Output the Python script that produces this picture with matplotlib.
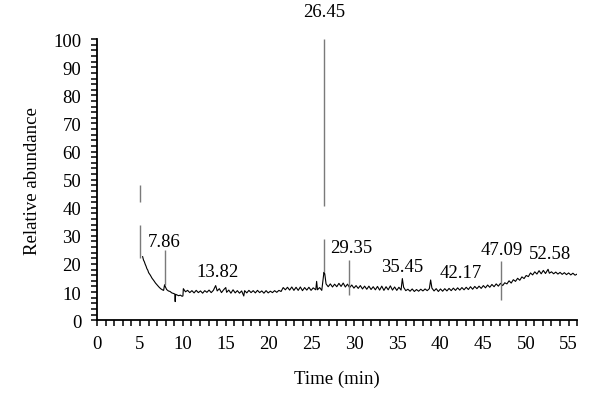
import matplotlib
matplotlib.use("Agg")
from matplotlib import pyplot as plt
from matplotlib.ticker import MultipleLocator
import numpy as np

plt.rcParams['font.family'] = ['Liberation Serif', 'DejaVu Serif']

# chromatogram trace (time in min, relative abundance)
trace_t = [5.3, 5.4, 5.5, 5.6, 5.7, 5.8, 5.9, 6.0, 6.2, 6.4, 6.6, 6.8, 7.0, 7.2, 7.4, 7.6, 7.75, 7.86, 7.95,
           8.1, 8.3, 8.5, 8.7, 8.9, 9.05, 9.1, 9.15, 9.3, 9.5, 9.7, 9.9, 10.0,
           10.05, 10.3, 10.55, 10.8, 11.05, 11.3, 11.55, 11.8, 12.05, 12.3, 12.55, 12.8, 13.05, 13.3, 13.55,
           13.82, 14.0, 14.25, 14.5, 14.75, 15.0, 15.1, 15.35, 15.6, 15.85, 16.1, 16.35, 16.6, 16.85, 17.1,
           17.2, 17.45, 17.7, 17.95, 18.2, 18.45, 18.7, 18.95, 19.2, 19.45, 19.7, 19.95, 20.2, 20.45, 20.7,
           20.95, 21.2, 21.45, 21.7, 21.95, 22.2, 22.45, 22.7, 22.95, 23.2, 23.45, 23.7, 23.95, 24.2, 24.45,
           24.7, 24.95, 25.2, 25.5, 25.6, 25.7, 25.95, 26.2, 26.45, 26.55, 26.7, 26.95, 27.2, 27.45, 27.7,
           27.95, 28.2, 28.45, 28.7, 28.95, 29.2, 29.45, 29.7, 29.95, 30.2, 30.45, 30.7, 30.95, 31.2, 31.45,
           31.7, 31.95, 32.2, 32.45, 32.7, 32.95, 33.2, 33.45, 33.7, 33.95, 34.2, 34.45, 34.7, 34.95, 35.2,
           35.45, 35.6, 35.75, 36.0, 36.25, 36.5, 36.75, 37.0, 37.25, 37.5, 37.75, 38.0, 38.25, 38.5, 38.75,
           38.9, 39.05, 39.3, 39.55, 39.8, 40.05, 40.3, 40.55, 40.8, 41.05, 41.3, 41.55, 41.8, 42.05, 42.3,
           42.55, 42.8, 43.05, 43.3, 43.55, 43.8, 44.05, 44.3, 44.55, 44.8, 45.05, 45.3, 45.55, 45.8, 46.05,
           46.3, 46.55, 46.8, 47.05, 47.3, 47.55, 47.8, 48.05, 48.3, 48.55, 48.8, 49.05, 49.3, 49.55, 49.8,
           50.05, 50.3, 50.55, 50.8, 51.05, 51.3, 51.55, 51.8, 52.05, 52.3, 52.6, 52.75, 53.0, 53.25, 53.5,
           53.75, 54.0, 54.25, 54.5, 54.75, 55.0, 55.25, 55.5, 55.75, 56.0]
trace_y = [22.6, 21.4, 20.8, 19.9, 19.2, 18.3, 17.8, 16.9, 16.0, 14.9, 14.1, 13.2, 12.5, 11.8, 11.2, 10.8, 10.6, 12.6, 11.9,
           10.9, 10.4, 10.2, 9.7, 9.5, 9.3, 6.6, 9.2, 9.0, 8.7, 8.9, 8.5, 8.6,
           11.2, 10.1, 10.6, 9.8, 10.5, 9.7, 10.6, 9.8, 10.4, 9.6, 10.5, 9.9, 10.7, 9.8, 10.6,
           12.3, 10.4, 11.2, 9.8, 10.8, 11.6, 9.9, 10.7, 9.6, 10.8, 9.7, 10.5, 9.6, 10.4, 8.6,
           10.5, 9.7, 10.6, 9.8, 10.5, 9.7, 10.6, 9.8, 10.4, 9.6, 10.5, 9.7, 10.3, 9.8, 10.5,
           9.9, 10.6, 10.2, 11.6, 10.8, 11.7, 10.7, 11.8, 10.6, 11.7, 10.6, 11.8, 10.5, 11.6, 10.7,
           11.7, 10.6, 11.5, 10.8, 13.8, 10.8, 11.6, 10.6, 17.0, 16.5, 12.9, 11.9, 12.9, 11.8, 12.8,
           11.9, 13.1, 12.0, 13.2, 11.8, 12.8, 11.6, 12.5, 11.4, 12.3, 11.3, 12.3, 11.1, 12.1, 11.0,
           12.1, 10.9, 11.9, 10.8, 12.0, 10.7, 12.1, 10.6, 11.9, 10.8, 12.2, 10.7, 11.8, 10.6, 11.7,
           10.7, 14.8, 11.7, 10.5, 11.0, 10.3, 11.1, 10.2, 10.9, 10.3, 11.0, 10.4, 11.1, 10.5, 11.2,
           14.3, 11.4, 10.4, 11.2, 10.2, 11.1, 10.3, 11.2, 10.4, 11.3, 10.5, 11.4, 10.6, 11.5, 10.7,
           11.6, 10.8, 11.7, 10.9, 11.9, 11.0, 12.0, 11.2, 12.1, 11.3, 12.3, 11.5, 12.5, 11.7, 12.7,
           11.9, 12.9, 12.1, 13.1, 12.3, 13.3, 12.9, 14.0, 13.2, 14.4, 13.8, 14.9, 14.2, 15.4, 14.8,
           15.9, 15.5, 16.8, 16.1, 17.2, 16.4, 17.6, 16.5, 17.7, 16.6, 18.1, 16.7, 17.2, 16.5, 17.1,
           16.4, 17.0, 16.3, 16.9, 16.2, 16.8, 16.1, 16.7, 16.0, 16.4]

# tall peaks drawn as thin grey strokes: time, top, bottom
peak_t = [5.0, 5.0, 7.86, 26.45, 26.45, 29.35, 47.09]
peak_top = [48.0, 34.0, 25.0, 100.0, 29.0, 21.5, 21.0]
peak_bottom = [42.0, 22.0, 12.5, 40.5, 17.0, 9.0, 7.0]

# peak labels and their text positions
label_text = ['7.86', '13.82', '26.45', '29.35', '35.45', '42.17', '47.09', '52.58']
label_x = [7.8, 14.0, 26.45, 29.6, 35.6, 42.4, 47.2, 52.8]
label_y = [28.0, 17.4, 110.0, 26.0, 19.0, 17.0, 25.3, 23.8]

fig = plt.figure(figsize=(6.0, 4.06), dpi=100)
ax = fig.add_axes([0.162, 0.209, 0.8, 0.692])

ax.plot(trace_t, trace_y, color='black', linewidth=0.8)
ax.vlines(peak_t, peak_bottom, peak_top, color='#7a7a7a', linewidth=1.0)

for txt, x, y in zip(label_text, label_x, label_y):
    ax.text(x, y, txt, ha='center', va='center', fontsize=13.5, clip_on=False)

ax.set_xlim(0, 56)
ax.set_ylim(0, 100)
ax.xaxis.set_major_locator(MultipleLocator(5))
ax.xaxis.set_minor_locator(MultipleLocator(1))
ax.yaxis.set_major_locator(MultipleLocator(10))
ax.yaxis.set_minor_locator(MultipleLocator(2))
ax.tick_params(which='both', length=4.5, width=1.1, direction='out')
ax.tick_params(axis='x', which='major', labelsize=13.5, pad=6)
ax.tick_params(axis='y', which='major', labelsize=13.5, pad=7)
for side in ['top', 'right']:
    ax.spines[side].set_visible(False)
for side in ['left', 'bottom']:
    ax.spines[side].set_linewidth(1.3)

ax.set_xlabel('Time (min)', fontsize=13.5, labelpad=13)
ax.set_ylabel('Relative abundance', fontsize=13.5, labelpad=9)

plt.savefig('out.png', dpi=100)
